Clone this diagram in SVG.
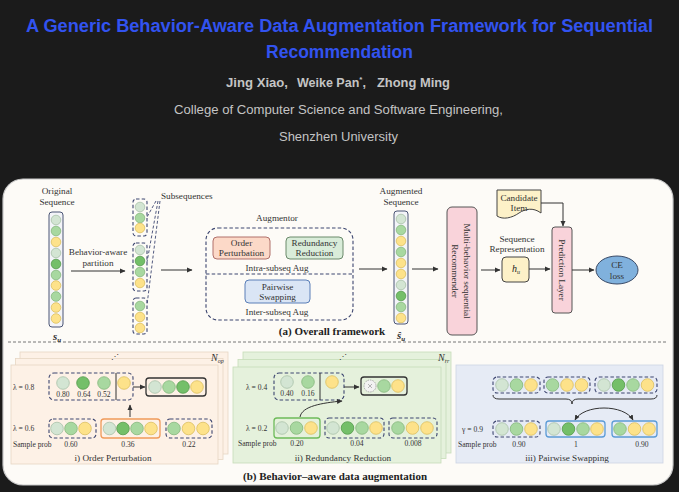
<svg xmlns="http://www.w3.org/2000/svg" width="679" height="492" viewBox="0 0 679 492">
<style>
.hd{font-family:"Liberation Sans",Arial,sans-serif;}
.t{font-family:"Liberation Serif","Times New Roman",serif;font-size:9.2px;fill:#333;text-anchor:middle;}
.s{font-family:"Liberation Serif","Times New Roman",serif;font-size:7.6px;fill:#333;}
.sm{text-anchor:middle;}
.c1{fill:#d3e5d3;stroke:#a9c2a9;stroke-width:0.8;}
.c2{fill:#a8d8a0;stroke:#86b87e;stroke-width:0.8;}
.c3{fill:#74bf69;stroke:#559a4c;stroke-width:0.8;}
.c4{fill:#fde28a;stroke:#dcbf5f;stroke-width:0.8;}
.db{fill:none;stroke:#3d4670;stroke-width:1.1;stroke-dasharray:3.5 2.2;}
.sb{fill:none;stroke:#333;stroke-width:1.3;}
.ln{fill:none;stroke:#333;stroke-width:1;}
.ar{fill:none;stroke:#333;stroke-width:1;marker-end:url(#ah);}
</style>
<defs>
<marker id="ah" markerWidth="6" markerHeight="6" refX="5" refY="3" orient="auto-start-reverse" markerUnits="userSpaceOnUse">
<path d="M0,0.5 L5.5,3 L0,5.5 z" fill="#333"/>
</marker>
</defs>
<rect x="0" y="0" width="679" height="492" fill="#1b1b1b"/>
<g id="header">
<text class="hd" x="339.5" y="32" font-size="17.5" font-weight="bold" fill="#3253f0" text-anchor="middle" textLength="627" lengthAdjust="spacingAndGlyphs">A Generic Behavior-Aware Data Augmentation Framework for Sequential</text>
<text class="hd" x="339.5" y="58" font-size="17.5" font-weight="bold" fill="#3253f0" text-anchor="middle" textLength="147" lengthAdjust="spacingAndGlyphs">Recommendation</text>
<text class="hd" x="226" y="86.5" font-size="12.5" font-weight="bold" fill="#c4c4c4" textLength="62" lengthAdjust="spacingAndGlyphs">Jing Xiao,</text>
<text class="hd" x="297" y="86.5" font-size="12.5" font-weight="bold" fill="#c4c4c4">Weike Pan<tspan dy="-5" font-size="8">*</tspan><tspan dy="5">,</tspan></text>
<text class="hd" x="377" y="86.5" font-size="12.5" font-weight="bold" fill="#c4c4c4" textLength="73" lengthAdjust="spacingAndGlyphs">Zhong Ming</text>
<text class="hd" x="338.5" y="114" font-size="12.5" fill="#c4c4c4" text-anchor="middle" textLength="329" lengthAdjust="spacingAndGlyphs">College of Computer Science and Software Engineering,</text>
<text class="hd" x="338.5" y="141" font-size="12.5" fill="#c4c4c4" text-anchor="middle" textLength="119" lengthAdjust="spacingAndGlyphs">Shenzhen University</text>
</g>
<rect x="3" y="179" width="670" height="306" rx="20" fill="#fdfbf7" stroke="#c9c9c9" stroke-width="1.2"/>
<line x1="8" y1="342" x2="668" y2="342" stroke="#666" stroke-width="0.9" stroke-dasharray="3 2"/>

<g id="original-seq">
<text class="t" x="57" y="194">Original</text>
<text class="t" x="57" y="205">Sequence</text>
<rect x="49" y="212" width="14" height="115" rx="3" fill="#f3f4f8" stroke="#4b5575" stroke-width="1"/>
<circle class="c1" cx="56" cy="220" r="4.8"/><circle class="c2" cx="56" cy="231" r="4.8"/><circle class="c4" cx="56" cy="242" r="4.8"/><circle class="c1" cx="56" cy="253" r="4.8"/><circle class="c3" cx="56" cy="264" r="4.8"/><circle class="c2" cx="56" cy="275" r="4.8"/><circle class="c4" cx="56" cy="285.5" r="4.8"/><circle class="c2" cx="56" cy="296.5" r="4.8"/><circle class="c4" cx="56" cy="307.5" r="4.8"/><circle class="c4" cx="56" cy="318.5" r="4.8"/>
<text x="53" y="340" font-family="Liberation Serif,serif" font-size="11" font-weight="bold" font-style="italic" fill="#333">s<tspan font-size="7" dy="2">u</tspan></text>
</g>

<g id="subsequences">
<text class="t" x="161" y="199" style="text-anchor:start">Subsequences</text>
<rect class="db" x="133" y="199" width="14" height="37" rx="3"/>
<circle class="c1" cx="140" cy="207" r="4.8"/><circle class="c2" cx="140" cy="218" r="4.8"/><circle class="c4" cx="140" cy="228" r="4.8"/>
<rect class="db" x="133" y="243" width="14" height="48" rx="3"/>
<circle class="c1" cx="140" cy="250" r="4.8"/><circle class="c3" cx="140" cy="261" r="4.8"/><circle class="c2" cx="140" cy="272" r="4.8"/><circle class="c4" cx="140" cy="283" r="4.8"/>
<rect class="db" x="133" y="298" width="14" height="36" rx="3"/>
<circle class="c2" cx="140" cy="306" r="4.8"/><circle class="c4" cx="140" cy="317" r="4.8"/><circle class="c4" cx="140" cy="328" r="4.8"/>
</g>

<g id="augmentor">
<text class="t" x="277" y="221">Augmentor</text>
<rect class="db" x="206" y="228" width="147" height="92" rx="12"/>
<line x1="206" y1="274" x2="353" y2="274" stroke="#3d4670" stroke-width="1.1" stroke-dasharray="3.5 2.2"/>
<rect x="213" y="237" width="57" height="22" rx="4" fill="#fcd9c8" stroke="#b0706a" stroke-width="1"/>
<text class="t" x="241.5" y="246">Order</text><text class="t" x="241.5" y="256">Perturbation</text>
<rect x="286" y="237" width="57" height="22" rx="4" fill="#d9ecd9" stroke="#6b8a6b" stroke-width="1"/>
<text class="t" x="314.5" y="246">Redundancy</text><text class="t" x="314.5" y="256">Reduction</text>
<text class="t" x="277" y="271">Intra-subseq Aug</text>
<rect x="245" y="280" width="65" height="23" rx="4" fill="#dae5f5" stroke="#5b7fb8" stroke-width="1"/>
<text class="t" x="277.5" y="289.5">Pairwise</text><text class="t" x="277.5" y="300">Swapping</text>
<text class="t" x="277" y="315">Inter-subseq Aug</text>
</g>

<g id="augmented-seq">
<text class="t" x="401" y="194">Augmented</text>
<text class="t" x="401" y="205">Sequence</text>
<rect x="394" y="211" width="14" height="113" rx="3" fill="#f3f4f8" stroke="#4b5575" stroke-width="1"/>
<circle class="c1" cx="401" cy="219" r="4.8"/><circle class="c2" cx="401" cy="230" r="4.8"/><circle class="c4" cx="401" cy="241" r="4.8"/><circle class="c2" cx="401" cy="252" r="4.8"/><circle class="c4" cx="401" cy="263" r="4.8"/><circle class="c4" cx="401" cy="274" r="4.8"/><circle class="c1" cx="401" cy="285" r="4.8"/><circle class="c3" cx="401" cy="296" r="4.8"/><circle class="c2" cx="401" cy="307" r="4.8"/><circle class="c4" cx="401" cy="318" r="4.8"/>
<text x="397" y="339" font-family="Liberation Serif,serif" font-size="11" font-weight="bold" font-style="italic" fill="#333">ŝ<tspan font-size="7" dy="2">u</tspan></text>
<text x="332" y="335" font-family="Liberation Serif,serif" font-size="11" font-weight="bold" fill="#222" text-anchor="middle">(a) Overall framework</text>
</g>

<g id="recommender">
<rect x="447" y="207" width="30" height="128" rx="5" fill="#f9d3da" stroke="#555" stroke-width="1"/>
<g transform="translate(462,271) rotate(90)">
<text class="t" x="0" y="-2">Multi-behavior sequential</text>
<text class="t" x="0" y="10">Recommender</text>
</g>
</g>

<g id="seq-rep">
<text class="t" x="517" y="242">Sequence</text>
<text class="t" x="517" y="252">Representation</text>
<rect x="502" y="257" width="27" height="25" rx="4" fill="#fdf1c8" stroke="#444" stroke-width="1"/>
<text x="512" y="272" font-family="Liberation Serif,serif" font-size="10" font-style="italic" fill="#222">h<tspan font-size="6" dy="2">u</tspan></text>
</g>

<g id="candidate">
<path d="M497,190 H541 V213 C533,207 525,209 519,213 C512,218 503,220 497,216 Z" fill="#fdf1c8" stroke="#444" stroke-width="1"/>
<text class="t" x="519" y="201">Candidate</text>
<text class="t" x="519" y="211">Item</text>
</g>

<g id="prediction">
<rect x="552" y="227" width="20" height="86" rx="3" fill="#f9d3da" stroke="#555" stroke-width="1"/>
<g transform="translate(562,270) rotate(90)">
<text class="t" x="0" y="3.2">Prediction Layer</text>
</g>
</g>

<g id="ce-loss">
<ellipse cx="617" cy="270" rx="21" ry="14" fill="#80b1dd" stroke="#3a4a66" stroke-width="1"/>
<text class="t" x="617" y="268">CE</text>
<text class="t" x="617" y="279">loss</text>
</g>

<g id="connectors">
<text class="t" x="98" y="255">Behavior-aware</text>
<text class="t" x="98" y="266">partition</text>
<line class="ar" x1="71" y1="271" x2="125" y2="271"/>
<line x1="156" y1="201" x2="147" y2="217" stroke="#3d4670" stroke-width="0.9" stroke-dasharray="3 2"/>
<line x1="158" y1="201" x2="147" y2="262" stroke="#3d4670" stroke-width="0.9" stroke-dasharray="3 2"/>
<line x1="160" y1="201" x2="147" y2="305" stroke="#3d4670" stroke-width="0.9" stroke-dasharray="3 2"/>
<line class="ar" x1="161" y1="270" x2="192" y2="270"/>
<line class="ar" x1="359" y1="269" x2="387" y2="269"/>
<line class="ar" x1="412" y1="269" x2="438" y2="269"/>
<line class="ar" x1="481" y1="270" x2="500" y2="270"/>
<line class="ar" x1="529" y1="269" x2="550" y2="269"/>
<path class="ar" d="M541,203 H563 V226"/>
<line class="ar" x1="572" y1="270" x2="594" y2="270"/>
</g>

<g id="order-perturbation">
<rect x="20" y="352" width="208" height="102" fill="#fdf1e6" stroke="#e6d6c4" stroke-width="0.8"/>
<rect x="15.5" y="358.5" width="207.5" height="101" fill="#fdf1e6" stroke="#e6d6c4" stroke-width="0.8"/>
<rect x="11" y="365" width="207" height="99" fill="#fdf1e6" stroke="#e6d6c4" stroke-width="0.8"/>
<text class="s sm" x="115" y="359" font-size="6" fill="#777">⋰</text>
<text x="211" y="361" font-family="Liberation Serif,serif" font-size="10" font-style="italic" fill="#333">N<tspan font-size="6" dy="2">op</tspan></text>
<text class="s" x="13" y="390">λ = 0.8</text>
<rect class="db" x="49" y="373" width="84" height="27" rx="5"/>
<line class="ln" x1="116" y1="373" x2="116" y2="400"/>
<circle class="c1" cx="63" cy="383" r="6.3"/><circle class="c3" cx="83" cy="383" r="6.3"/><circle class="c2" cx="104" cy="383" r="6.3"/><circle class="c4" cx="124" cy="383" r="6.3"/>
<text class="s sm" x="63" y="397">0.80</text><text class="s sm" x="84" y="397">0.64</text><text class="s sm" x="104" y="397">0.52</text>
<line class="ar" x1="133" y1="387" x2="145" y2="387"/>
<rect class="sb" x="146" y="378" width="60" height="18" rx="3"/>
<circle class="c1" cx="155" cy="387" r="6.3"/><circle class="c2" cx="169" cy="387" r="6.3"/><circle class="c3" cx="183" cy="387" r="6.3"/><circle class="c4" cx="197" cy="387" r="6.3"/>
<line class="ar" x1="130" y1="417" x2="130" y2="405"/>
<text class="s" x="13" y="431">λ = 0.6</text>
<rect class="db" x="49" y="419" width="47" height="19" rx="4"/>
<circle class="c1" cx="57" cy="428.5" r="6.3"/><circle class="c2" cx="71" cy="428.5" r="6.3"/><circle class="c4" cx="85" cy="428.5" r="6.3"/>
<rect x="101" y="419" width="59" height="19" rx="3" fill="none" stroke="#f09a5a" stroke-width="1.3"/>
<circle class="c1" cx="109.5" cy="428.5" r="6.3"/><circle class="c3" cx="123" cy="428.5" r="6.3"/><circle class="c2" cx="137" cy="428.5" r="6.3"/><circle class="c4" cx="151" cy="428.5" r="6.3"/>
<rect class="db" x="166" y="419" width="46" height="19" rx="4"/>
<circle class="c2" cx="174" cy="428.5" r="6.3"/><circle class="c4" cx="188.5" cy="428.5" r="6.3"/><circle class="c4" cx="203" cy="428.5" r="6.3"/>
<text class="s" x="13" y="447">Sample prob</text>
<text class="s sm" x="71" y="447">0.60</text><text class="s sm" x="128" y="447">0.36</text><text class="s sm" x="189" y="447">0.22</text>
<text class="t" x="113" y="460.5" font-size="10">i) Order Perturbation</text>
</g>

<g id="redundancy-reduction">
<rect x="243" y="352" width="208" height="101" fill="#e5f1dc" stroke="#c6ddb8" stroke-width="0.8"/>
<rect x="238" y="359.5" width="208" height="99" fill="#e5f1dc" stroke="#c6ddb8" stroke-width="0.8"/>
<rect x="233" y="367" width="208" height="96" fill="#e5f1dc" stroke="#c6ddb8" stroke-width="0.8"/>
<text class="s sm" x="343" y="359" font-size="6" fill="#777">⋰</text>
<text x="438" y="361" font-family="Liberation Serif,serif" font-size="10" font-style="italic" fill="#333">N<tspan font-size="6" dy="2">rr</tspan></text>
<text class="s" x="246" y="390">λ = 0.4</text>
<rect class="db" x="274" y="373" width="70" height="27" rx="5"/>
<line class="ln" x1="320" y1="373" x2="320" y2="400"/>
<circle class="c1" cx="287" cy="382" r="6.3"/><circle class="c2" cx="308" cy="382" r="6.3"/><circle class="c4" cx="332" cy="382" r="6.3"/>
<text class="s sm" x="287" y="396">0.40</text><text class="s sm" x="308" y="396">0.16</text>
<line class="ar" x1="344" y1="387" x2="359" y2="387"/>
<rect class="sb" x="361" y="377" width="46" height="18" rx="3"/>
<circle cx="370" cy="386" r="6" fill="#f2f2f2" stroke="#999" stroke-width="0.8" stroke-dasharray="1.5 1"/>
<path d="M368,384 L372,388 M372,384 L368,388" stroke="#999" stroke-width="0.7"/>
<circle class="c2" cx="384" cy="386" r="6.3"/><circle class="c4" cx="398" cy="386" r="6.3"/>
<path class="ar" d="M300,417 C302,406 322,403 342,401"/>
<text class="s" x="246" y="431">λ = 0.2</text>
<rect x="274" y="418" width="46" height="20" rx="3" fill="none" stroke="#6dbb5a" stroke-width="1.3"/>
<circle class="c1" cx="282" cy="428" r="6.3"/><circle class="c2" cx="296.5" cy="428" r="6.3"/><circle class="c4" cx="311" cy="428" r="6.3"/>
<rect class="db" x="325" y="418" width="59" height="20" rx="4"/>
<circle class="c1" cx="333" cy="428" r="6.3"/><circle class="c3" cx="347.5" cy="428" r="6.3"/><circle class="c2" cx="362" cy="428" r="6.3"/><circle class="c4" cx="376" cy="428" r="6.3"/>
<rect class="db" x="389" y="418" width="48" height="20" rx="4"/>
<circle class="c2" cx="398" cy="428" r="6.3"/><circle class="c4" cx="412.5" cy="428" r="6.3"/><circle class="c4" cx="427" cy="428" r="6.3"/>
<text class="s" x="238" y="446">Sample prob</text>
<text class="s sm" x="297" y="446">0.20</text><text class="s sm" x="357" y="446">0.04</text><text class="s sm" x="413" y="446">0.008</text>
<text class="t" x="343" y="460.5" font-size="10">ii) Redundancy Reduction</text>
</g>

<g id="pairwise-swapping">
<rect x="456" y="365" width="207" height="98" fill="#e6ebf5" stroke="#ccd4e4" stroke-width="0.8"/>
<rect class="db" x="493" y="377" width="47" height="16" rx="4"/>
<circle class="c1" cx="502" cy="385" r="6.3"/><circle class="c2" cx="516.5" cy="385" r="6.3"/><circle class="c4" cx="531" cy="385" r="6.3"/>
<rect class="db" x="544" y="377" width="46" height="16" rx="4"/>
<circle class="c2" cx="552.5" cy="385" r="6.3"/><circle class="c4" cx="567" cy="385" r="6.3"/><circle class="c4" cx="581.5" cy="385" r="6.3"/>
<rect class="db" x="595" y="377" width="62" height="16" rx="4"/>
<circle class="c1" cx="604" cy="385" r="6.3"/><circle class="c3" cx="618.5" cy="385" r="6.3"/><circle class="c2" cx="633" cy="385" r="6.3"/><circle class="c4" cx="647.5" cy="385" r="6.3"/>
<path class="ln" d="M493,395 Q493,399 499,399 H566 Q572,399 572,404 Q572,399 578,399 H651 Q657,399 657,395"/>
<path d="M575,420 C584,404 624,404 633,420" fill="none" stroke="#333" stroke-width="1" marker-start="url(#ah)" marker-end="url(#ah)"/>
<text class="s" x="462" y="432">γ = 0.9</text>
<rect class="db" x="493" y="421" width="47" height="16" rx="4"/>
<circle class="c1" cx="502" cy="429" r="6.3"/><circle class="c2" cx="516.5" cy="429" r="6.3"/><circle class="c4" cx="531" cy="429" r="6.3"/>
<rect x="546" y="421" width="59" height="16" rx="3" fill="none" stroke="#5b9bd5" stroke-width="1.3"/>
<circle class="c1" cx="554" cy="429" r="6.3"/><circle class="c3" cx="568.5" cy="429" r="6.3"/><circle class="c2" cx="583" cy="429" r="6.3"/><circle class="c4" cx="597" cy="429" r="6.3"/>
<rect x="612" y="421" width="45" height="16" rx="3" fill="none" stroke="#5b9bd5" stroke-width="1.3"/>
<circle class="c2" cx="620" cy="429" r="6.3"/><circle class="c4" cx="634.5" cy="429" r="6.3"/><circle class="c4" cx="649" cy="429" r="6.3"/>
<text class="s" x="458" y="447">Sample prob</text>
<text class="s sm" x="519" y="447">0.90</text><text class="s sm" x="576" y="447">1</text><text class="s sm" x="642" y="447">0.90</text>
<text class="t" x="567" y="460.5" font-size="10">iii) Pairwise Swapping</text>
</g>
<text x="335" y="480" font-family="Liberation Serif,serif" font-size="11" font-weight="bold" fill="#222" text-anchor="middle">(b) Behavior–aware data augmentation</text>
</svg>
